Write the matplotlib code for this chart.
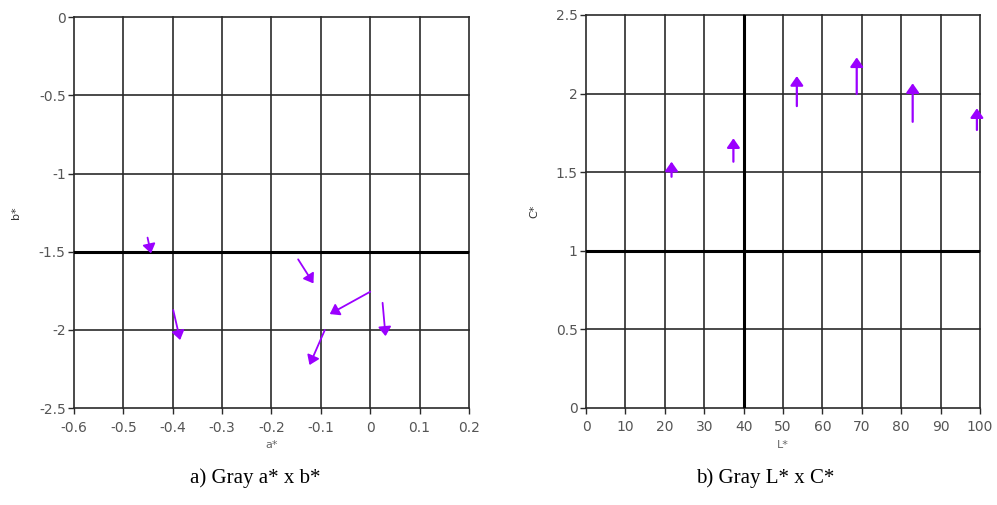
import matplotlib
matplotlib.use("Agg")
from matplotlib import pyplot as plt

# a* x b* arrows (start -> end)
ab_a_start = [-0.451, -0.146, 0.000, 0.025, -0.399, -0.092]
ab_b_start = [-1.41, -1.549, -1.756, -1.827, -1.873, -2.001]
ab_a_end = [-0.444, -0.115, -0.082, 0.031, -0.385, -0.123]
ab_b_end = [-1.511, -1.703, -1.899, -2.040, -2.065, -2.225]

# L* x C* arrows (start -> end)
lc_l = [21.7, 37.4, 53.5, 68.7, 82.9, 99.2]
lc_c_start = [1.470, 1.566, 1.920, 1.997, 1.820, 1.768]
lc_c_end = [1.566, 1.715, 2.111, 2.230, 2.065, 1.906]

ab_xticks = [-0.6, -0.5, -0.4, -0.3, -0.2, -0.1, 0, 0.1, 0.2]
ab_xlabels = ["-0.6", "-0.5", "-0.4", "-0.3", "-0.2", "-0.1", "0", "0.1", "0.2"]
ab_yticks = [-2.5, -2, -1.5, -1, -0.5, 0]
ab_ylabels = ["-2.5", "-2", "-1.5", "-1", "-0.5", "0"]
lc_xticks = list(range(0, 101, 10))
lc_yticks = [0, 0.5, 1, 1.5, 2, 2.5]
lc_ylabels = ["0", "0.5", "1", "1.5", "2", "2.5"]

arrow_color = "#9b00ff"
grid_color = "#2a2a2a"
tick_font = "DejaVu Sans"

fig = plt.figure(figsize=(9.97, 5.05), dpi=100)
ax1 = fig.add_axes([0.0742, 0.192, 0.3962, 0.774])
ax2 = fig.add_axes([0.5878, 0.1927, 0.3952, 0.7776])


def style_axes(ax, xticks, xlabels, yticks, ylabels):
    ax.set_xlim(xticks[0], xticks[-1])
    ax.set_ylim(yticks[0], yticks[-1])
    ax.set_xticks(xticks)
    ax.set_xticklabels(xlabels)
    ax.set_yticks(yticks)
    ax.set_yticklabels(ylabels)
    for v in xticks:
        ax.axvline(v, color=grid_color, lw=1.2, zorder=1, clip_on=False)
    for v in yticks:
        ax.axhline(v, color=grid_color, lw=1.2, zorder=1, clip_on=False)
    for s in ax.spines.values():
        s.set_visible(False)
    ax.tick_params(direction="out", length=4, width=1, color=grid_color,
                   labelsize=10, labelcolor="#555555")
    ax.tick_params(axis="x", pad=5)
    ax.tick_params(axis="y", pad=2)
    for lab in ax.get_xticklabels() + ax.get_yticklabels():
        lab.set_fontfamily(tick_font)


style_axes(ax1, ab_xticks, ab_xlabels, ab_yticks, ab_ylabels)
ax1.axhline(-1.5, color="black", lw=2.2, zorder=2)
ax1.set_xlabel("a*", fontsize=8, color="#666666", family=tick_font, labelpad=4)
ax1.set_ylabel("b*", fontsize=8, color="#333333", family=tick_font, labelpad=13)

style_axes(ax2, lc_xticks, [str(t) for t in lc_xticks], lc_yticks, lc_ylabels)
ax2.axvline(40, color="black", lw=2.2, zorder=2)
ax2.axhline(1, color="black", lw=2.2, zorder=2)
ax2.set_xlabel("L*", fontsize=8, color="#666666", family=tick_font, labelpad=4)
ax2.set_ylabel("C*", fontsize=8, color="#333333", family=tick_font, labelpad=12)

for x0, y0, x1, y1 in zip(ab_a_start, ab_b_start, ab_a_end, ab_b_end):
    ax1.annotate("", xy=(x1, y1), xytext=(x0, y0),
                 arrowprops=dict(arrowstyle="-|>,head_length=0.5,head_width=0.35",
                                 color=arrow_color, lw=1.3,
                                 mutation_scale=11, shrinkA=0, shrinkB=0),
                 zorder=5)

for x, y0, y1 in zip(lc_l, lc_c_start, lc_c_end):
    ax2.annotate("", xy=(x, y1), xytext=(x, y0),
                 arrowprops=dict(arrowstyle="-|>,head_length=0.5,head_width=0.35",
                                 color=arrow_color, lw=1.6,
                                 mutation_scale=11, shrinkA=0, shrinkB=0),
                 zorder=5, annotation_clip=False)

fig.text(0.256, 0.053, "a) Gray a* x b*", ha="center", va="center",
         fontsize=15, family="Liberation Serif")
fig.text(0.768, 0.053, "b) Gray L* x C*", ha="center", va="center",
         fontsize=15, family="Liberation Serif")

fig.savefig("out.png", dpi=100)
